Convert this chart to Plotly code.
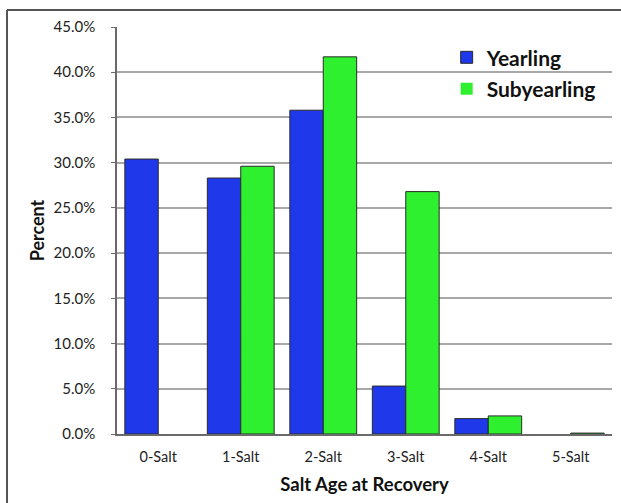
import plotly.graph_objects as go

categories = ["0-Salt", "1-Salt", "2-Salt", "3-Salt", "4-Salt", "5-Salt"]
yearling = [30.4, 28.3, 35.8, 5.3, 1.7, 0.0]
subyearling = [0.0, 29.6, 41.7, 26.8, 2.0, 0.1]
y_ticks = [0, 5, 10, 15, 20, 25, 30, 35, 40, 45]
y_tick_labels = [f"{v:.1f}%" for v in y_ticks]

FONT = "Lato"
BLUE = "#1f38ea"
GREEN = "#2ef02e"
OUTLINE = "#2a2a2a"


def outline_widths(values):
    return [0 if v == 0 else 1 for v in values]


fig = go.Figure()
fig.add_trace(go.Bar(
    x=categories, y=yearling, name="Yearling", legendgroup="a",
    marker=dict(color=BLUE, line=dict(color=OUTLINE, width=outline_widths(yearling))),
))
fig.add_trace(go.Bar(
    x=categories, y=subyearling, name="Subyearling", legendgroup="b",
    marker=dict(color=GREEN, line=dict(color=OUTLINE, width=outline_widths(subyearling))),
))

fig.update_layout(
    width=621, height=503, autosize=False,
    margin=dict(l=117, r=9, t=27, b=69),
    paper_bgcolor="white", plot_bgcolor="white",
    barmode="group", bargap=0.19, bargroupgap=0,
    font=dict(family=FONT, color="#222222", size=13),
    legend=dict(
        x=0.666, y=0.975, xanchor="left", yanchor="top",
        bgcolor="rgba(0,0,0,0)",
        font=dict(family=FONT, size=21, color="#111111", weight="bold"),
        traceorder="grouped", tracegroupgap=1,
        itemwidth=30,
    ),
    xaxis=dict(
        showline=True, linecolor="#6a6a6a", linewidth=1.5,
        ticks="", showgrid=False,
        tickfont=dict(family=FONT, size=14.5, color="#222222"),
        ticklabelstandoff=9,
        title=dict(text="Salt Age at Recovery",
                   font=dict(family=FONT, size=18.5, color="#111111", weight="bold"),
                   standoff=14),
    ),
    yaxis=dict(
        range=[0, 45], tickmode="array", tickvals=y_ticks, ticktext=y_tick_labels,
        showline=True, linecolor="#6a6a6a", linewidth=1.5,
        ticks="outside", ticklen=4, tickcolor="#6a6a6a",
        showgrid=True, gridcolor="#a8a8a8", gridwidth=1.5,
        zeroline=False,
        tickfont=dict(family=FONT, size=15, color="#222222"),
        ticklabelstandoff=13,
        title=dict(text="Percent",
                   font=dict(family=FONT, size=18, color="#111111", weight="bold"),
                   standoff=4),
    ),
    shapes=[
        dict(type="line", xref="paper", yref="paper",
             x0=-0.2222, x1=-0.2222, y0=-0.3, y1=1.0418,
             line=dict(color="#555555", width=2), layer="below"),
        dict(type="line", xref="paper", yref="paper",
             x0=-0.2222, x1=1.05, y0=1.0418, y1=1.0418,
             line=dict(color="#555555", width=2), layer="below"),
    ],
)

fig.write_html(
    "out.html",
    config={"displayModeBar": False},
    post_script="document.body.style.margin='0';document.body.style.overflow='hidden';",
)
